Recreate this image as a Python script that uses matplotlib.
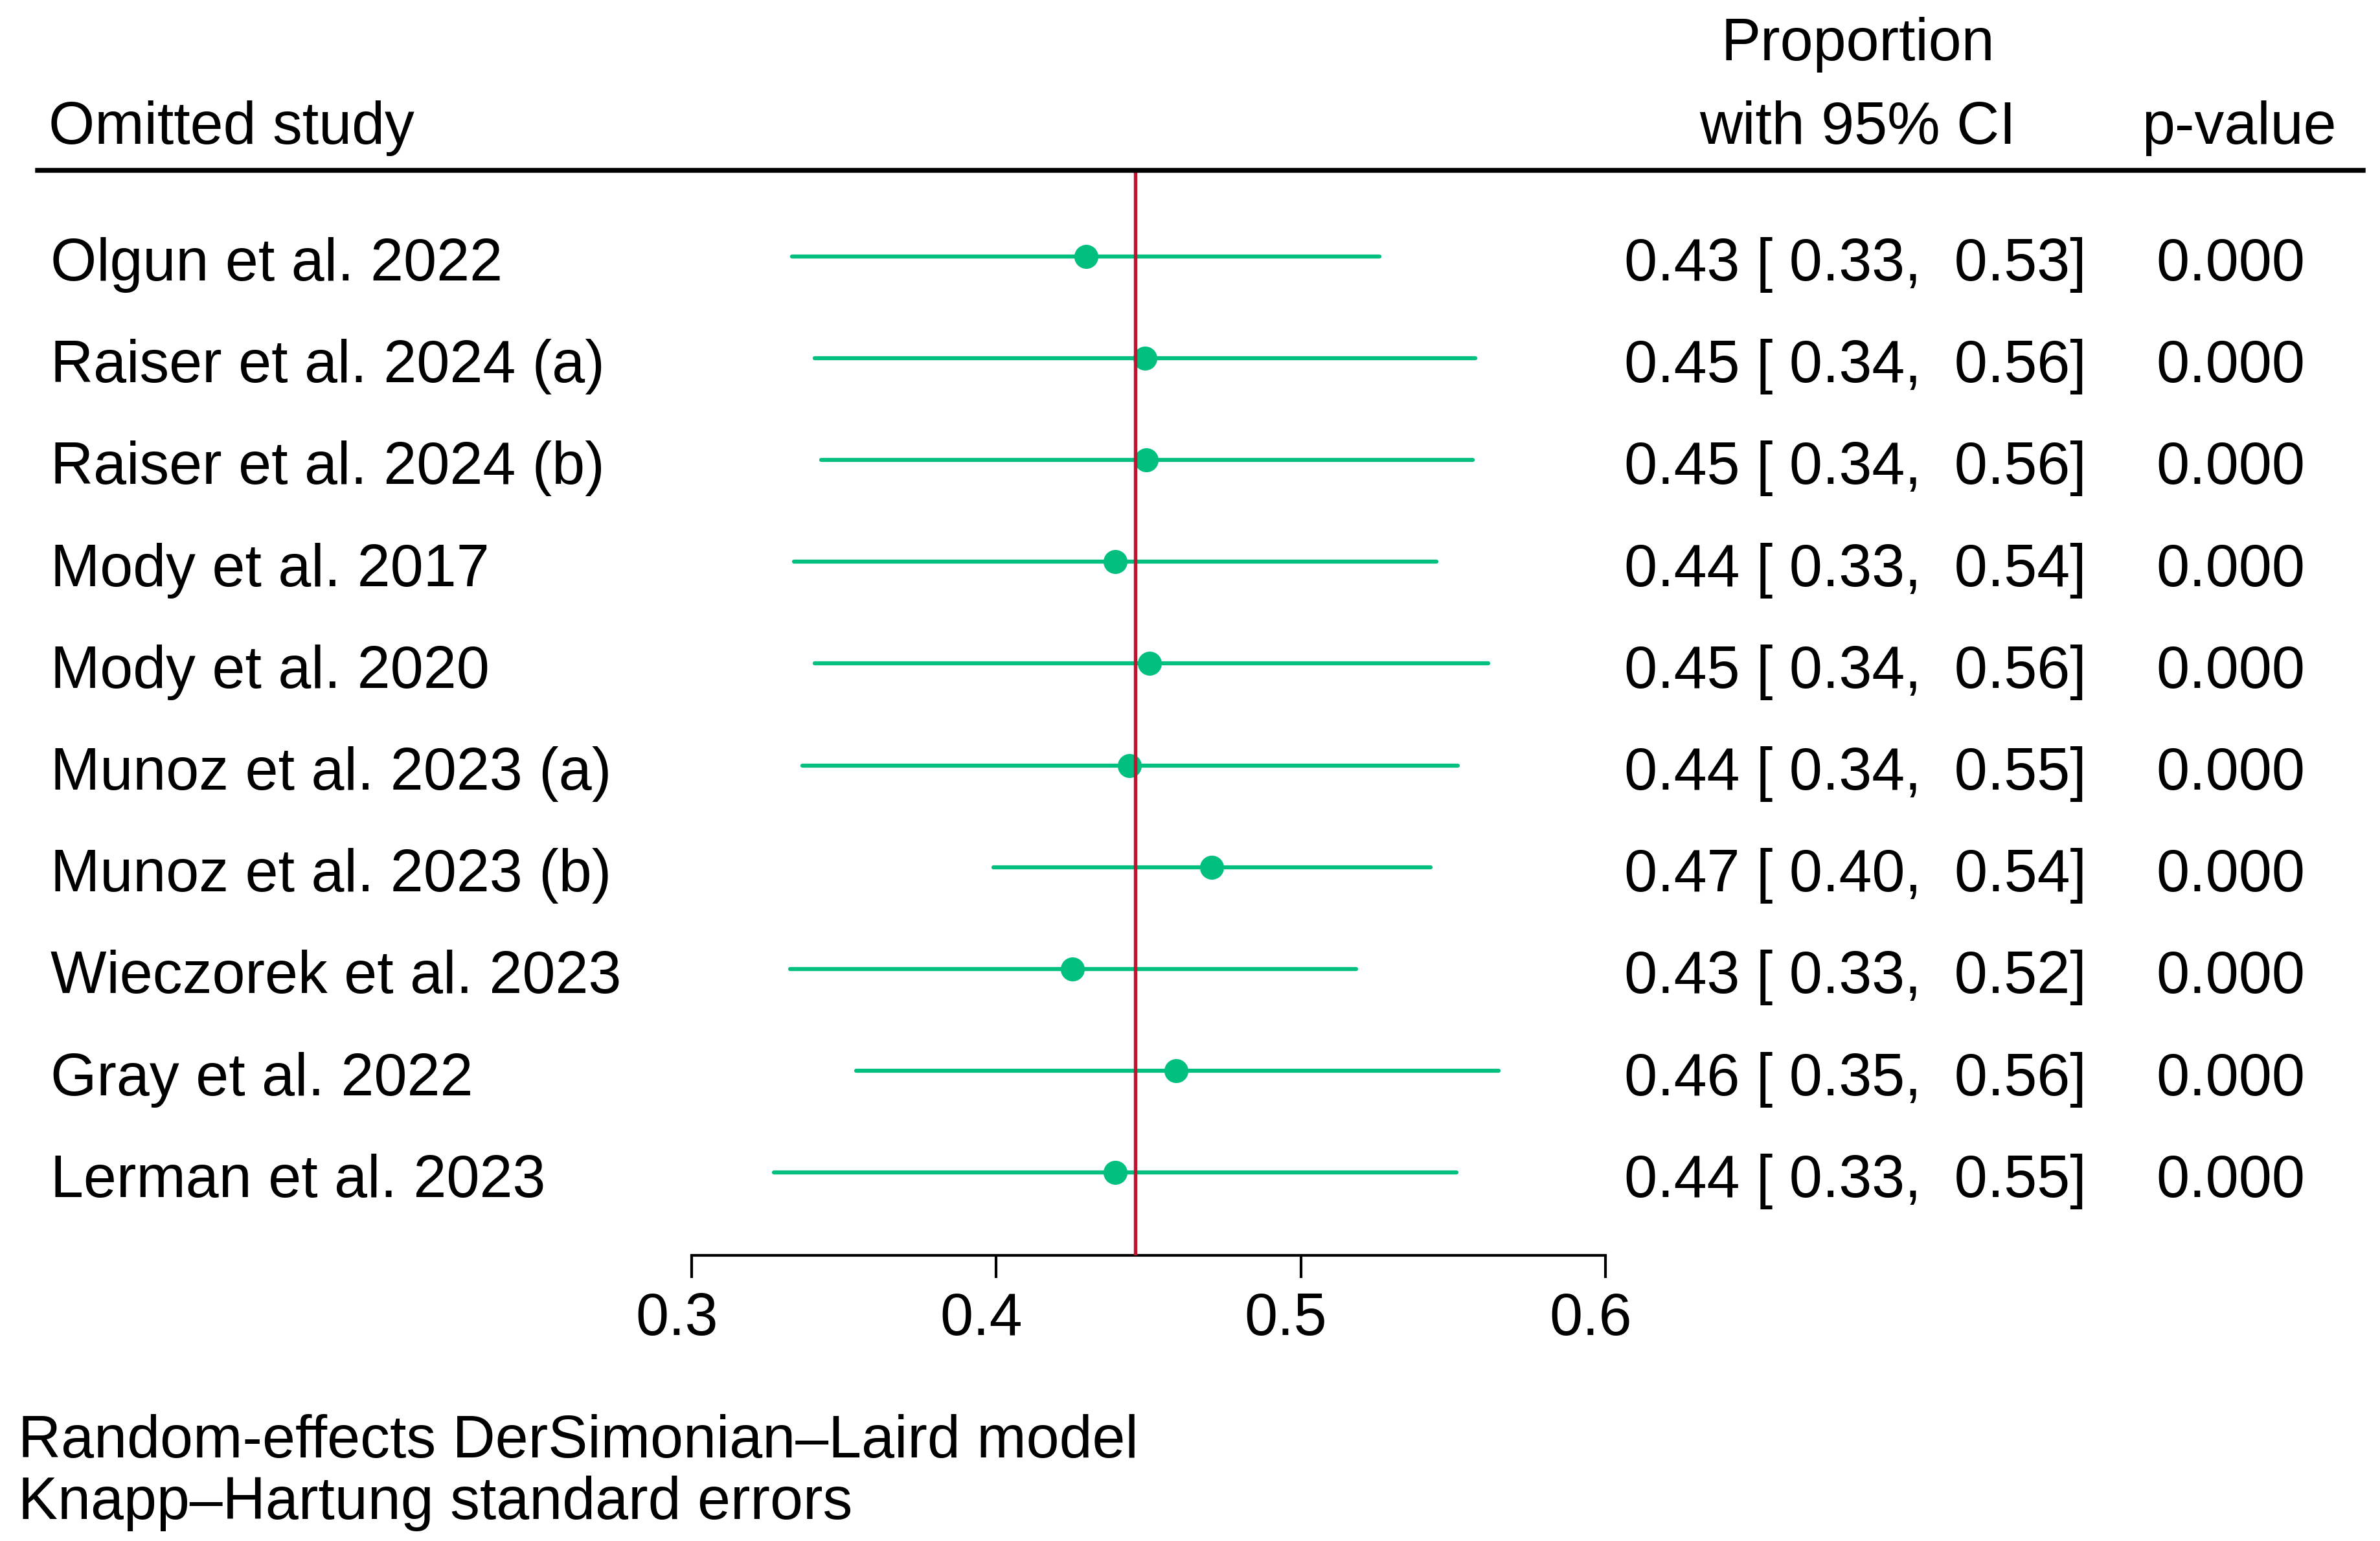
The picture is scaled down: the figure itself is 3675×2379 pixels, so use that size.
import matplotlib
matplotlib.use("Agg")
import matplotlib.pyplot as plt
import matplotlib.transforms as mtransforms
import numpy as np

plt.rcParams['font.family'] = ['Liberation Sans', 'DejaVu Sans']

studies = ["Olgun et al. 2022", "Raiser et al. 2024 (a)", "Raiser et al. 2024 (b)",
           "Mody et al. 2017", "Mody et al. 2020", "Munoz et al. 2023 (a)",
           "Munoz et al. 2023 (b)", "Wieczorek et al. 2023", "Gray et al. 2022",
           "Lerman et al. 2023"]
est = [0.4294, 0.4489, 0.4493, 0.4391, 0.4503, 0.4438, 0.4707, 0.4251, 0.4590, 0.4391]
lo = [0.3330, 0.3404, 0.3425, 0.3336, 0.3404, 0.3364, 0.3991, 0.3324, 0.3540, 0.3270]
hi = [0.5258, 0.5573, 0.5564, 0.5445, 0.5616, 0.5516, 0.5426, 0.5181, 0.5649, 0.5511]
ci_text = ["0.43 [ 0.33,  0.53]", "0.45 [ 0.34,  0.56]", "0.45 [ 0.34,  0.56]",
           "0.44 [ 0.33,  0.54]", "0.45 [ 0.34,  0.56]", "0.44 [ 0.34,  0.55]",
           "0.47 [ 0.40,  0.54]", "0.43 [ 0.33,  0.52]", "0.46 [ 0.35,  0.56]",
           "0.44 [ 0.33,  0.55]"]
pvals = ["0.000"] * 10
overall = 0.4457
xticks = [0.3, 0.4, 0.5, 0.6]
xticklabels = ["0.3", "0.4", "0.5", "0.6"]

W, H = 3675, 2379
DPI = 300
fig = plt.figure(figsize=(W / DPI, H / DPI), dpi=DPI)

def fx(x):
    return x / W

def fy(y):
    return 1 - y / H

# plot axes: x 1068..2479 px, y 263..1938 px
ax_left, ax_right = 1068, 2479
ax_top, ax_bot = 263, 1938
ax = fig.add_axes([fx(ax_left), fy(ax_bot), (ax_right - ax_left) / W, (ax_bot - ax_top) / H])
row0, step = 395.5, 157.2
ytop = (ax_top - row0) / step
ybot = (ax_bot - row0) / step
ax.set_xlim(0.3, 0.6)
ax.set_ylim(ybot, ytop)

green = "#00BF7F"
red = "#C8102E"
rows = np.arange(len(studies))
for i in rows:
    ax.plot([lo[i], hi[i]], [i, i], color=green, lw=1.5, solid_capstyle='round', zorder=2)
ax.plot(est, rows, 'o', color=green, ms=8.9, mec='none', zorder=3)
ax.axvline(overall, color=red, lw=1.3, zorder=4)

for s in ['top', 'right', 'left']:
    ax.spines[s].set_visible(False)
ax.spines['bottom'].set_linewidth(1.0)
ax.set_yticks([])
ax.set_xticks(xticks)
ax.set_xticklabels(xticklabels, fontsize=22)
ax.tick_params(axis='x', length=8.4, width=1.0, pad=5)
shift = mtransforms.ScaledTranslation(-23 / DPI, 0, fig.dpi_scale_trans)
for lab in ax.get_xticklabels():
    lab.set_transform(lab.get_transform() + shift)

fs = 22
# header
fig.text(fx(75), fy(222), "Omitted study", fontsize=fs, ha='left', va='baseline')
fig.text(fx(2869), fy(93), "Proportion", fontsize=fs, ha='center', va='baseline')
fig.text(fx(2869), fy(222), "with 95% CI", fontsize=fs, ha='center', va='baseline')
fig.text(fx(3457), fy(222), "p-value", fontsize=fs, ha='center', va='baseline')
fig.add_artist(plt.Line2D([fx(58), fx(3649)], [fy(263), fy(263)], color='black', lw=1.8))

for i, (s, c, p) in enumerate(zip(studies, ci_text, pvals)):
    yb = row0 + step * i + 37.5
    fig.text(fx(78), fy(yb), s, fontsize=fs, ha='left', va='baseline')
    fig.text(fx(2508), fy(yb), c, fontsize=fs, ha='left', va='baseline')
    fig.text(fx(3444), fy(yb), p, fontsize=fs, ha='center', va='baseline')

fig.text(fx(28), fy(2250), "Random-effects DerSimonian\u2013Laird model", fontsize=fs, ha='left', va='baseline')
fig.text(fx(28), fy(2345), "Knapp\u2013Hartung standard errors", fontsize=fs, ha='left', va='baseline')

fig.savefig("out.png", dpi=DPI, facecolor='white')
